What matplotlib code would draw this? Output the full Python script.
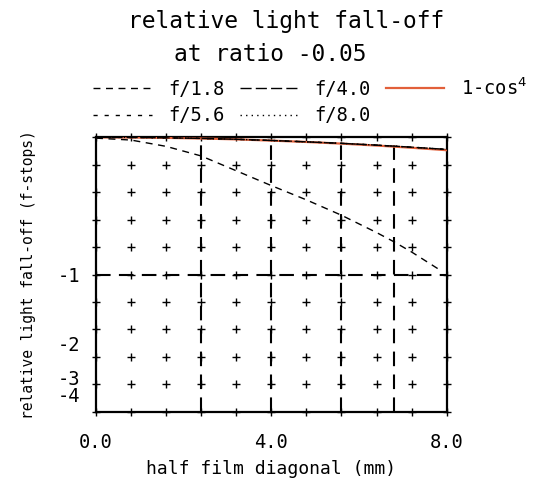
import matplotlib.pyplot as plt
import numpy as np

# half film diagonal (mm)
x_cos4 = [0.0, 0.8, 1.6, 2.4, 3.2, 4.0, 4.8, 5.6, 6.4, 7.2, 8.0]
# relative illumination (1.0 = no fall-off), y axis is linear in this
illum_cos4 = [1.0, 0.9995, 0.998, 0.9957, 0.9925, 0.988, 0.983, 0.977, 0.970, 0.962, 0.953]
illum_f40 = [1.0, 0.9996, 0.9982, 0.996, 0.9928, 0.9885, 0.9835, 0.978, 0.9715, 0.964, 0.956]
illum_f56 = [1.0, 0.9996, 0.9982, 0.996, 0.9928, 0.9885, 0.9835, 0.978, 0.9715, 0.964, 0.956]
illum_f80 = [1.0, 0.9996, 0.9982, 0.996, 0.9928, 0.9885, 0.9835, 0.978, 0.9715, 0.964, 0.956]

x_f18 = [0.0, 0.8, 1.6, 2.4, 3.2, 4.0, 4.8, 5.6, 6.4, 6.8, 7.2, 7.85]
illum_f18 = [0.997, 0.99, 0.967, 0.932, 0.878, 0.824, 0.772, 0.716, 0.653, 0.619, 0.582, 0.516]

# marked image heights (dashed verticals)
format_marks = [2.4, 4.0, 5.6, 6.8]

xtick_pos = [0.0, 4.0, 8.0]
xtick_labels = ["0.0", "4.0", "8.0"]
ystop_labels = [-1, -2, -3, -4]

mono = "DejaVu Sans Mono"
plt.rcParams["font.family"] = mono

fig = plt.figure(figsize=(5.43, 4.84), dpi=100)
ax = fig.add_axes([0.1768, 0.1494, 0.6458, 0.5669])

orange = "#e2603a"
ax.plot(x_cos4, illum_cos4, color=orange, lw=1.6, label="1-cos$^4$", zorder=3)
ax.plot(x_cos4, illum_f40, color="black", lw=1.0, dashes=(8, 3), label="f/4.0", zorder=4)
ax.plot(x_cos4, illum_f56, color="black", lw=1.0, dashes=(3, 5), label="f/5.6", zorder=4)
ax.plot(x_cos4, illum_f80, color="black", lw=1.0, dashes=(1, 3), label="f/8.0", zorder=4)
ax.plot(x_f18, illum_f18, color="black", lw=1.0, dashes=(5, 4), label="f/1.8", zorder=4)

# plus-marker grid
gx = np.arange(0, 8.01, 0.8)
gy = np.arange(0, 1.001, 0.1)
GX, GY = np.meshgrid(gx, gy)
ax.plot(GX.ravel(), GY.ravel(), ls="none", marker="+", ms=5.5, mew=1.0,
        color="black", clip_on=False, zorder=2)

for xm in format_marks:
    ax.axvline(xm, color="black", lw=1.5, dashes=(7, 4), zorder=1)
ax.axhline(0.5, color="black", lw=1.5, dashes=(7, 4), zorder=1)

ax.set_xlim(0, 8)
ax.set_ylim(0, 1)
ax.set_xticks(xtick_pos)
ax.set_xticklabels(xtick_labels)
ax.set_yticks([2.0 ** s for s in ystop_labels])
ax.set_yticklabels([str(s) for s in ystop_labels])
ax.tick_params(length=0, labelsize=13.5)
ax.tick_params(axis="x", pad=15)
ax.tick_params(axis="y", pad=11)
for sp in ax.spines.values():
    sp.set_linewidth(1.6)

ax.set_xlabel("half film diagonal (mm)", fontsize=13, labelpad=6)
ax.set_ylabel("relative light fall-off (f-stops)", fontsize=10.5, labelpad=16)

fig.text(0.527, 0.955, "relative light fall-off", ha="center", va="center", fontsize=16.5)
fig.text(0.497, 0.887, "at ratio -0.05", ha="center", va="center", fontsize=16.5)

h, l = ax.get_legend_handles_labels()
order = [4, 2, 1, 3, 0]
fig.legend([h[i] for i in order], [l[i] for i in order], ncol=3, frameon=False,
           loc="upper left", bbox_to_anchor=(0.172, 0.84), fontsize=13.5,
           handlelength=3.1, handletextpad=0.9, columnspacing=0.8,
           labelspacing=0.38, borderpad=0, borderaxespad=0)

fig.savefig("out.png", dpi=100)
